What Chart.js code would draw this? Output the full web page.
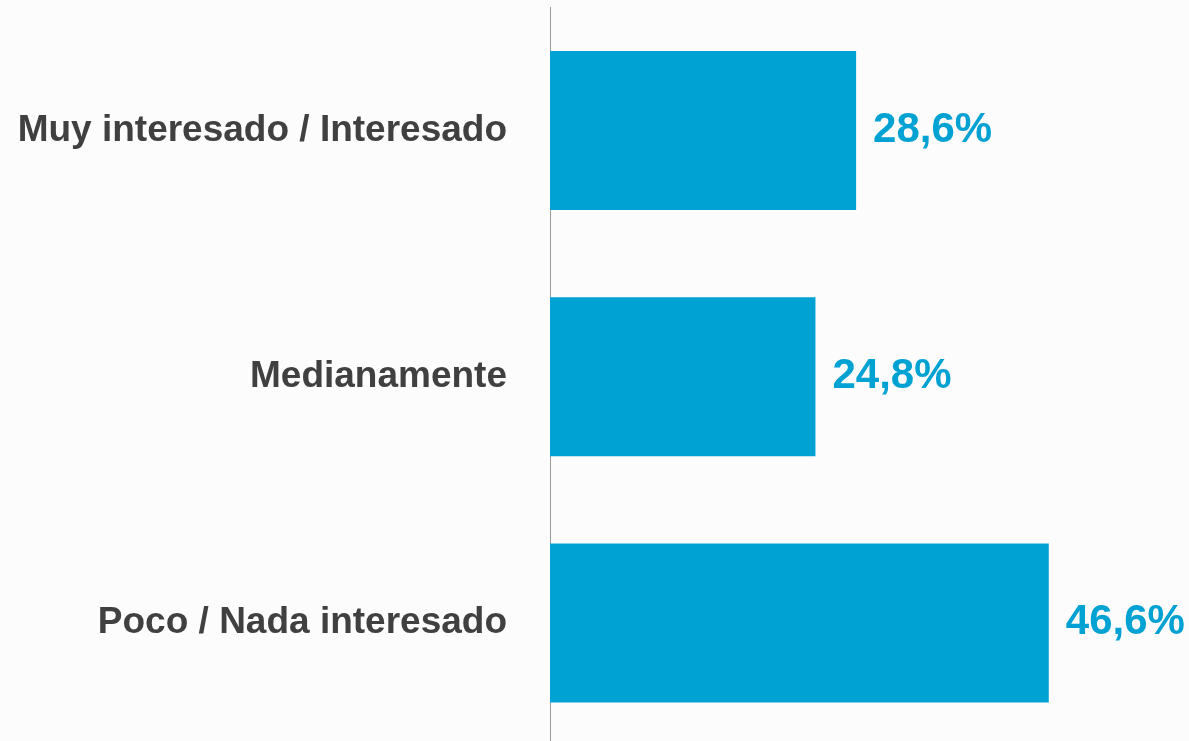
<!DOCTYPE html>
<html>
<head>
<meta charset="utf-8">
<script src="https://cdn.jsdelivr.net/npm/chart.js@4/dist/chart.umd.min.js"></script>
<style>
  html, body { margin: 0; padding: 0; background: #fcfcfc; overflow: hidden; }
  #wrap { width: 1189px; height: 746px; position: relative; }
</style>
</head>
<body>
<div id="wrap"><canvas id="chart"></canvas></div>
<script>
// chart data
const categories = ["Muy interesado / Interesado", "Medianamente", "Poco / Nada interesado"];
const values = [28.6, 24.8, 46.6];
const valueLabels = ["28,6%", "24,8%", "46,6%"];

const BAR_COLOR = "#00a1d3";
const TEXT_COLOR = "#404040";

// draws the percentage next to the end of each bar
const valueLabelPlugin = {
  id: "valueLabels",
  afterDatasetsDraw(chart) {
    const ctx = chart.ctx;
    const meta = chart.getDatasetMeta(0);
    ctx.save();
    ctx.font = "bold 42px 'Liberation Sans', Arial, sans-serif";
    ctx.fillStyle = BAR_COLOR;
    ctx.textAlign = "left";
    ctx.textBaseline = "middle";
    meta.data.forEach((bar, i) => {
      ctx.fillText(valueLabels[i], bar.x + 17, bar.y);
    });
    ctx.restore();
  }
};

new Chart(document.getElementById("chart").getContext("2d"), {
  type: "bar",
  data: {
    labels: categories,
    datasets: [{
      data: values,
      backgroundColor: BAR_COLOR,
      borderWidth: 0,
      categoryPercentage: 1,
      barPercentage: 0.646
    }]
  },
  options: {
    indexAxis: "y",
    responsive: true,
    maintainAspectRatio: false,
    animation: false,
    layout: { padding: { top: 7.5, right: 0, bottom: 0, left: 0 } },
    plugins: {
      legend: { display: false },
      tooltip: { enabled: false }
    },
    scales: {
      x: {
        display: false,
        min: 0,
        max: 59.7
      },
      y: {
        afterFit(scale) {
          scale.width = 550;
          scale.paddingTop = 0;
          scale.paddingBottom = 0;
        },
        grid: { display: false, drawTicks: false },
        border: { display: true, color: "#9a9a9a", width: 1 },
        ticks: {
          padding: 43,
          color: TEXT_COLOR,
          font: { family: "'Liberation Sans', Arial, sans-serif", size: 37, weight: "bold" }
        }
      }
    }
  },
  plugins: [valueLabelPlugin]
});
</script>
</body>
</html>
